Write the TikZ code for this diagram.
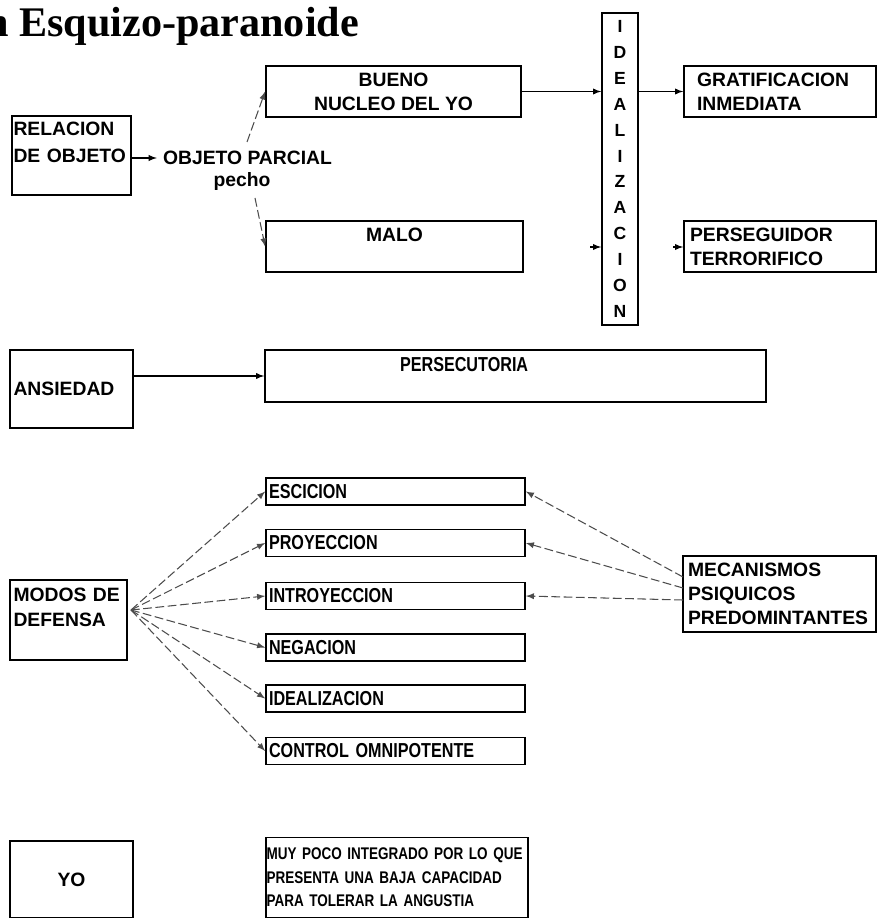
\documentclass[tikz,border=0pt]{standalone}
\usepackage{fontspec}
\setmainfont{Liberation Sans}
\newfontfamily\narrowfont[FakeStretch=0.8]{Liberation Sans}
\newfontfamily\titlefont{Liberation Serif}
\hyphenpenalty=10000
\exhyphenpenalty=10000

\begin{document}
\begin{tikzpicture}[x=0.02cm,y=-0.02cm,
font=\bfseries\fontsize{11}{13.5}\selectfont,
box/.style={draw,line width=1pt,inner xsep=0.07cm,align=left},
cbox/.style={draw,line width=1pt,align=center},
narrow/.style={font=\narrowfont\bfseries\fontsize{11.5}{13.5}\selectfont},
defbox/.style={box,narrow,text width=5.06cm,inner xsep=0.06cm,inner ysep=1pt,minimum height=0.54cm},
conn/.style={semithick,-latex},
dconn/.style={semithick,-latex,gray!60!black,dash pattern=on 5pt off 2pt}]
\useasboundingbox (0,0) rectangle (878,918);
\node[anchor=base west,font=\titlefont\bfseries\fontsize{24}{28}\selectfont] (title) at (13,37) {\llap{n }Esquizo-paranoide};
% relacion de objeto
\node[box,text width=2.32cm,inner xsep=0.03cm,minimum height=1.58cm,font=\bfseries\fontsize{11}{15}\selectfont] (rel) at (71.5,155.5) {RELACION\\DE OBJETO\\~};
\node (obj) at (247.5,158) {OBJETO PARCIAL};
\node (pecho) at (242,182) {pecho};
\node[cbox,minimum width=5.10cm,minimum height=1.02cm] (bueno) at (393.5,91.5) {BUENO\\NUCLEO DEL YO};
\node[cbox,minimum width=5.14cm,minimum height=1.02cm] (malo) at (394.5,246.5) {MALO\\~};
\node[cbox,inner xsep=0pt,minimum width=0.72cm,minimum height=6.24cm,font=\bfseries\fontsize{10}{14.7}\selectfont] (ideal) at (620,169) {I\\D\\E\\A\\L\\I\\Z\\A\\C\\I\\O\\N};
\node[box,text width=3.32cm,inner xsep=0.26cm,minimum height=1.02cm] (grat) at (780,91.5) {GRATIFICACION\\INMEDIATA};
\node[box,text width=3.60cm,inner xsep=0.12cm,minimum height=1.02cm] (perseg) at (780,246.5) {PERSEGUIDOR\\TERRORIFICO};
\coordinate (up) at (247,142);
\coordinate (dn) at (255,198);
\coordinate (m1) at (590,247);
\coordinate (p1) at (673,247);
\draw[conn] (rel.east |- obj.west) -- (obj.west);
\draw[dconn] (up) -- (bueno.west);
\draw[dconn] (dn) -- (malo.west);
\draw[conn] (bueno.east) -- (bueno.east -| ideal.west);
\draw[conn] (ideal.east |- grat.west) -- (grat.west);
\draw[conn] (m1) -- (m1 -| ideal.west);
\draw[conn] (p1) -- (p1 -| perseg.west);
% ansiedad
\node[box,text width=2.32cm,minimum height=1.56cm] (ans) at (71.5,389) {ANSIEDAD};
\node[box,narrow,text width=4.62cm,inner xsep=2.7cm,minimum height=1.04cm] (pers) at (515.5,376) {PERSECUTORIA\\~};
\draw[conn] (ans.east |- pers.west) -- (pers.west);
% modos de defensa
\node[box,text width=2.20cm,minimum height=1.60cm,font=\bfseries\fontsize{11}{14.5}\selectfont] (modos) at (68.5,620) {MODOS DE\\DEFENSA\\~};
\node[defbox] (esc) at (395.5,491.5) {ESCICION};
\node[defbox] (proy) at (395.5,543) {PROYECCION};
\node[defbox] (intro) at (395.5,596) {INTROYECCION};
\node[defbox] (neg) at (395.5,647.5) {NEGACION};
\node[defbox] (ideal2) at (395.5,698.5) {IDEALIZACION};
\node[defbox] (ctrl) at (395.5,751) {CONTROL OMNIPOTENTE};
\node[box,text width=3.66cm,inner xsep=0.1cm,minimum height=1.52cm] (mec) at (779.5,594) {MECANISMOS\\PSIQUICOS\\PREDOMINTANTES};
\coordinate (fan) at (131,610);
\foreach \n in {esc,proy,intro,neg,ideal2,ctrl}
  \draw[dconn] (fan) -- (\n.west);
\coordinate (k1) at (683,577);
\coordinate (k2) at (683,588);
\coordinate (k3) at (683,600);
\draw[dconn] (k1) -- (esc.east);
\draw[dconn] (k2) -- (proy.east);
\draw[dconn] (k3) -- (intro.east);
% yo
\node[cbox,minimum width=2.46cm,minimum height=1.54cm] (yo) at (71.5,879.5) {YO};
\node[box,text width=5.22cm,inner xsep=0.01cm,minimum height=1.60cm,font=\narrowfont\bfseries\fontsize{9.6}{13.4}\selectfont] (muy) at (397,877.5) {MUY POCO INTEGRADO POR LO QUE\\PRESENTA UNA BAJA CAPACIDAD\\PARA TOLERAR LA ANGUSTIA};
\end{tikzpicture}
\end{document}
